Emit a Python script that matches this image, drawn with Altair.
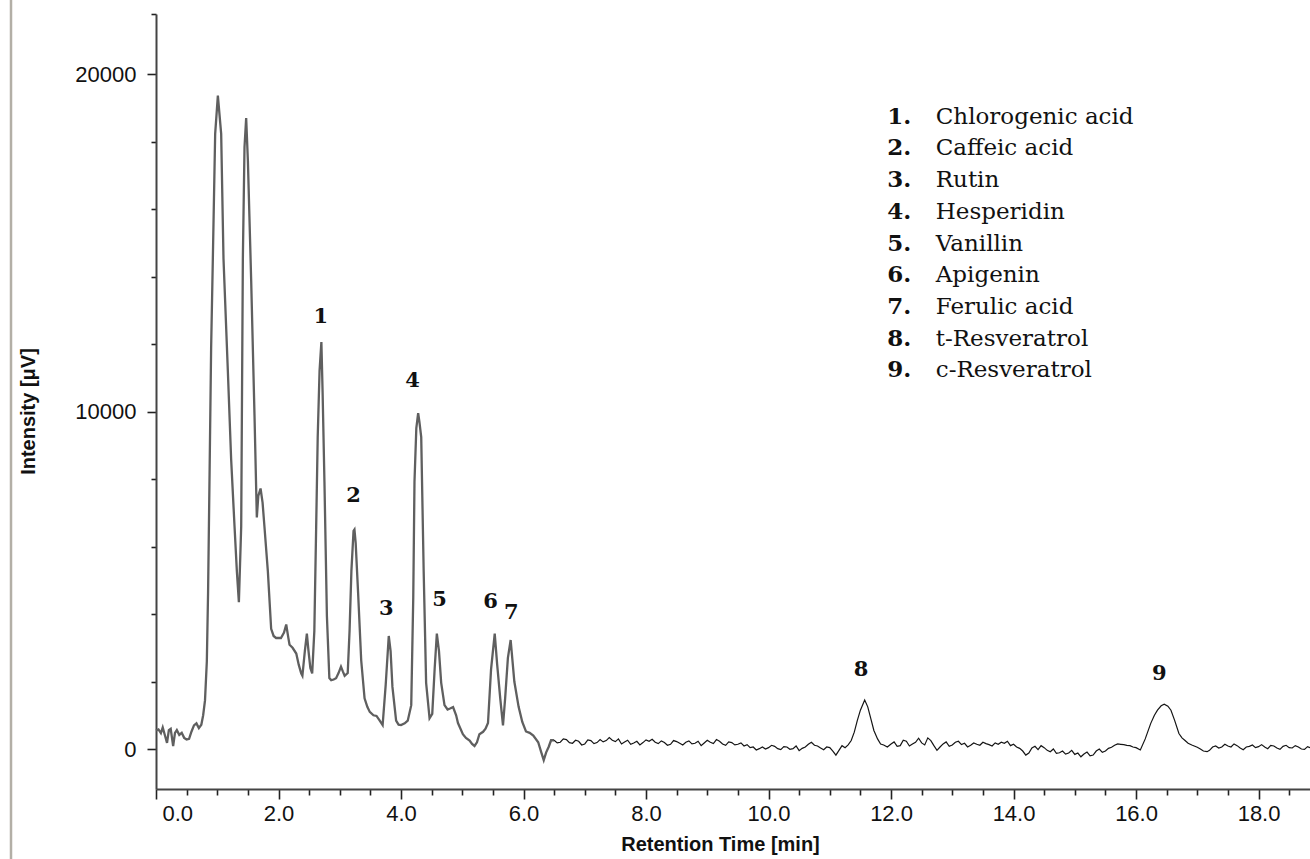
import altair as alt
import pandas as pd

# Retention time (min) and detector signal (µV): main elution window
early_rt = [
    0.00, 0.04, 0.08, 0.11, 0.15, 0.18, 0.21, 0.24, 0.28, 0.31, 0.34, 0.38, 0.42, 0.46,
    0.50, 0.54, 0.58, 0.62, 0.66, 0.70, 0.74, 0.77, 0.80, 0.83, 0.85, 0.873, 0.90, 0.928,
    0.966, 1.01, 1.064, 1.102, 1.173, 1.227, 1.282, 1.32, 1.353, 1.391, 1.418, 1.445,
    1.472, 1.50, 1.554, 1.608, 1.646, 1.67, 1.707, 1.74, 1.77, 1.826, 1.88, 1.92, 1.96,
    2.04, 2.09, 2.126, 2.16, 2.18, 2.23, 2.29, 2.33, 2.37, 2.39, 2.43, 2.463, 2.49, 2.52,
    2.55, 2.585, 2.615, 2.64, 2.67, 2.70, 2.72, 2.75, 2.79, 2.83, 2.86, 2.90, 2.94, 2.98,
    3.02, 3.05, 3.08, 3.13, 3.16, 3.19, 3.225, 3.24, 3.26, 3.30, 3.35, 3.405, 3.45, 3.49,
    3.55, 3.60, 3.65, 3.70, 3.75, 3.80, 3.83, 3.86, 3.92, 3.96, 4.00, 4.06, 4.11, 4.167,
    4.20, 4.22, 4.25, 4.28, 4.30, 4.33, 4.37, 4.41, 4.466, 4.51, 4.55, 4.585, 4.62, 4.656,
    4.71, 4.76, 4.80, 4.85, 4.90, 4.93, 5.01, 5.06, 5.12, 5.16, 5.20, 5.24, 5.28, 5.34,
    5.38, 5.42, 5.47, 5.53, 5.57, 5.62, 5.665, 5.70, 5.745, 5.79, 5.85, 5.92, 5.98, 6.04,
    6.10, 6.16, 6.24, 6.29, 6.33, 6.37, 6.41, 6.45, 6.50,
]
early_signal = [
    550, 580, 470, 640, 380, 180, 560, 600, 90, 480, 560, 420, 480, 330,
    280, 300, 520, 700, 760, 620, 720, 1000, 1440, 2600, 4620, 7920, 11880, 14530,
    18230, 19360, 18230, 14530, 11200, 8580, 6600, 5270, 4350, 6600, 14530, 17840,
    18700, 17440, 13870, 9900, 6860, 7500, 7720, 7300, 6600, 5270, 3560, 3350, 3290,
    3290, 3450, 3690, 3300, 3090, 3000, 2830, 2500, 2240, 2170, 2900, 3420, 2900, 2400,
    2240, 3500, 6600, 9240, 11200, 12060, 10570, 7920, 3950, 2100, 2040, 2060, 2100, 2250,
    2440, 2300, 2170, 2250, 3500, 5270, 6460, 6500, 6100, 4610, 2630, 1500, 1250, 1100,
    1000, 980, 850, 710, 1900, 3350, 2900, 1840, 840, 720, 710, 760, 840, 1300,
    4500, 7920, 9510, 9950, 9700, 9240, 5270, 1960, 910, 1040, 2400, 3420, 2900, 1960,
    1300, 1170, 1200, 1240, 1000, 770, 440, 330, 250, 150, 90, 200, 440, 510,
    600, 770, 2360, 3420, 2500, 1500, 700, 1500, 2700, 3230, 2000, 1250, 800, 520,
    480, 400, 200, -100, -330, -100, 60, 260, 260,
]

# Retention time (min) and detector signal (µV): noisy baseline and late peaks
late_rt = [
    6.50, 6.55, 6.60, 6.65, 6.70, 6.75, 6.80, 6.85, 6.90, 6.95, 7.00, 7.05, 7.10, 7.15,
    7.20, 7.25, 7.30, 7.35, 7.40, 7.45, 7.50, 7.55, 7.60, 7.65, 7.70, 7.75, 7.80, 7.85,
    7.90, 7.95, 8.00, 8.05, 8.10, 8.15, 8.20, 8.25, 8.30, 8.35, 8.40, 8.45, 8.50, 8.55,
    8.60, 8.65, 8.70, 8.75, 8.80, 8.85, 8.90, 8.95, 9.00, 9.05, 9.10, 9.15, 9.20, 9.25,
    9.30, 9.35, 9.40, 9.45, 9.50, 9.55, 9.60, 9.65, 9.70, 9.75, 9.80, 9.85, 9.90, 9.95,
    10.00, 10.05, 10.10, 10.15, 10.20, 10.25, 10.30, 10.35, 10.40, 10.45, 10.50, 10.55,
    10.60, 10.65, 10.70, 10.75, 10.80, 10.85, 10.90, 10.95, 11.00, 11.05, 11.10, 11.15,
    11.20, 11.25, 11.30, 11.35, 11.40, 11.45, 11.50, 11.57, 11.62, 11.67, 11.72, 11.78,
    11.83, 11.88, 11.94, 12.00, 12.05, 12.10, 12.15, 12.20, 12.25, 12.30, 12.35, 12.40,
    12.45, 12.50, 12.55, 12.60, 12.65, 12.70, 12.75, 12.80, 12.85, 12.90, 12.95, 13.00,
    13.05, 13.10, 13.15, 13.20, 13.25, 13.30, 13.35, 13.40, 13.45, 13.50, 13.55, 13.60,
    13.65, 13.70, 13.75, 13.80, 13.85, 13.90, 13.95, 14.00, 14.05, 14.10, 14.15, 14.20,
    14.25, 14.30, 14.35, 14.40, 14.45, 14.50, 14.55, 14.60, 14.65, 14.70, 14.75, 14.80,
    14.85, 14.90, 14.95, 15.00, 15.05, 15.10, 15.15, 15.20, 15.25, 15.30, 15.35, 15.40,
    15.45, 15.50, 15.55, 15.60, 15.65, 15.70, 15.75, 15.80, 15.85, 15.90, 15.95, 16.00,
    16.07, 16.15, 16.24, 16.30, 16.35, 16.41, 16.46, 16.52, 16.57, 16.63, 16.70, 16.75,
    16.80, 16.85, 16.91, 16.95, 17.00, 17.05, 17.10, 17.16, 17.20, 17.25, 17.30, 17.35,
    17.40, 17.45, 17.50, 17.55, 17.60, 17.65, 17.70, 17.75, 17.80, 17.85, 17.90, 17.95,
    18.00, 18.05, 18.10, 18.15, 18.20, 18.25, 18.30, 18.35, 18.40, 18.45, 18.50, 18.55,
    18.60, 18.65, 18.70, 18.75, 18.80, 18.84,
]
late_signal = [
    260, 180, 200, 300, 280, 190, 170, 260, 230, 120, 150, 270, 250, 160,
    190, 280, 210, 250, 340, 260, 220, 300, 150, 210, 260, 140, 180, 230,
    120, 190, 270, 230, 290, 200, 160, 240, 190, 110, 140, 250, 220, 170,
    120, 200, 240, 150, 170, 230, 100, 180, 260, 200, 160, 280, 230, 150,
    110, 210, 190, 120, 140, 180, 90, 130, 40, 60, -30, 10, 60, 0,
    40, 110, 80, 10, -20, 70, 60, -10, 10, 90, -50, 20,
    60, 140, 200, 110, 90, 30, -20, 60, 40, -60, -180, -40,
    100, 40, 120, 250, 500, 850, 1150, 1450, 1250, 900, 550, 300,
    150, 120, 60, 150, 210, 80, 100, 260, 230, 90, 150, 200,
    320, 180, 120, 330, 250, 100, -40, 60, 150, 210, 80, 120,
    200, 230, 130, 170, 60, 110, 180, 140, 110, 200, 160, 130,
    90, 180, 140, 200, 170, 230, 100, 140, 60, 20, -60, -180,
    -120, 30, 80, -20, 100, 40, -40, -80, 0, -130, -110, -60,
    -150, -120, -40, -160, -120, -230, -150, -90, -200, -180, -60, 0,
    -100, -60, 20, 50, 110, 150, 140, 130, 110, 100, 60, 40,
    -30, 300, 760, 1000, 1150, 1280, 1330, 1270, 1150, 850, 460, 330,
    250, 170, 120, 90, 50, 0, -60, -80, -40, 60, 90, 30,
    60, 140, 90, 60, 150, 100, 30, -20, 60, 80, 120, 40,
    70, 130, 60, 10, 110, 90, 30, -10, 80, 110, 40, 30,
    100, 60, 0, -10, 70, 40,
]

# Peak numbers written above the identified compounds
peak_ids = ["1", "2", "3", "4", "5", "6", "7", "8", "9"]
peak_label_rt = [2.69, 3.225, 3.76, 4.19, 4.63, 5.46, 5.80, 11.51, 16.38]
peak_label_signal = [12810, 7500, 4150, 10900, 4420, 4360, 4030, 2340, 2220]

# Compound key
compounds = [
    "Chlorogenic acid", "Caffeic acid", "Rutin", "Hesperidin", "Vanillin",
    "Apigenin", "Ferulic acid", "t-Resveratrol", "c-Resveratrol",
]

RT_MAX = 18.84
SIG_MIN, SIG_MAX = -1185, 21780

early = pd.DataFrame({"rt": early_rt, "signal": early_signal})
late = pd.DataFrame({"rt": late_rt, "signal": late_signal})
peaks = pd.DataFrame({"rt": peak_label_rt, "signal": peak_label_signal, "label": peak_ids})
key = pd.DataFrame({
    "num": [f"{i}." for i in peak_ids],
    "name": compounds,
    "row": list(range(len(compounds))),
})

x_ticks = [v / 2 for v in range(0, 38)]
y_ticks = list(range(0, 21000, 2000)) + [SIG_MAX]

x_enc = alt.X(
    "rt:Q",
    scale=alt.Scale(domain=[0, RT_MAX], nice=False, zero=False),
    axis=alt.Axis(
        title="Retention Time [min]",
        values=x_ticks,
        labelExpr="datum.value % 2 === 0 ? format(datum.value, '.1f') : ''",
        labelOverlap=False,
        labelFlush=True,
        labelFlushOffset=-6,
        tickSize={"condition": {"test": "datum.value % 2 === 0", "value": 10}, "value": 6},
        labelPadding=4,
        titleX=564,
        titleY=61,
        titleBaseline="alphabetic",
        titleFontWeight="bold",
        grid=False,
    ),
)
y_enc = alt.Y(
    "signal:Q",
    scale=alt.Scale(domain=[SIG_MIN, SIG_MAX], nice=False, zero=False),
    axis=alt.Axis(
        title="Intensity [μV]",
        values=y_ticks,
        labelExpr="datum.value % 10000 === 0 ? format(datum.value, 'd') : ''",
        labelOverlap=False,
        tickSize={"condition": {"test": "datum.value % 10000 === 0", "value": 9}, "value": 5},
        labelPadding=11,
        titleAngle=270,
        titleX=-128,
        titleY=397,
        titleAlign="center",
        titleBaseline="middle",
        titleFont="Liberation Sans Narrow, Liberation Sans",
        titleFontWeight="bold",
        grid=False,
    ),
)

# steep early part of the run, drawn a little heavier
early_line = alt.Chart(early).mark_line(color="#5f5f5f", strokeWidth=2.3).encode(
    x=x_enc, y=y_enc
)
# flat noisy baseline with the two resveratrol peaks
late_line = alt.Chart(late).mark_line(color="#151515", strokeWidth=1.2).encode(
    x=x_enc, y=y_enc
)

peak_text = alt.Chart(peaks).mark_text(
    font="DejaVu Serif", fontSize=21, fontWeight="bold", color="#111",
    align="center", baseline="middle",
).encode(x=x_enc, y=y_enc, text="label:N")

key_num = alt.Chart(key).transform_calculate(
    rt="11.94", signal="18735 - datum.row * 939"
).mark_text(
    font="DejaVu Serif", fontSize=23, fontWeight="bold", color="#111",
    align="left", baseline="middle",
).encode(x=x_enc, y=y_enc, text="num:N")
key_name = alt.Chart(key).transform_calculate(
    rt="12.73", signal="18735 - datum.row * 939"
).mark_text(
    font="DejaVu Serif", fontSize=23, color="#111",
    align="left", baseline="middle",
).encode(x=x_enc, y=y_enc, text="name:N")

# thin grey frame line at the far left of the page
frame = alt.Chart(pd.DataFrame({"k": [0]})).mark_rule(
    color="#b3afa6", strokeWidth=2.5
).encode(x=alt.value(-145), y=alt.value(-14), y2=alt.value(845))

chart = alt.layer(early_line, late_line, peak_text, key_num, key_name, frame).properties(
    width=1154,
    height=775,
    autosize=alt.AutoSizeParams(type="none"),
    padding={"left": 156, "top": 14, "right": 0, "bottom": 70},
    background="white",
).configure_view(stroke=None).configure_axis(
    labelFont="Liberation Sans",
    labelFontSize=22,
    labelColor="#111",
    titleFont="Liberation Sans",
    titleFontSize=20,
    titleColor="#111",
    domainColor="#444",
    domainWidth=2,
    tickColor="#222",
    tickWidth=1.6,
)

chart.save("out.html", embed_options={"renderer": "svg", "actions": False})
